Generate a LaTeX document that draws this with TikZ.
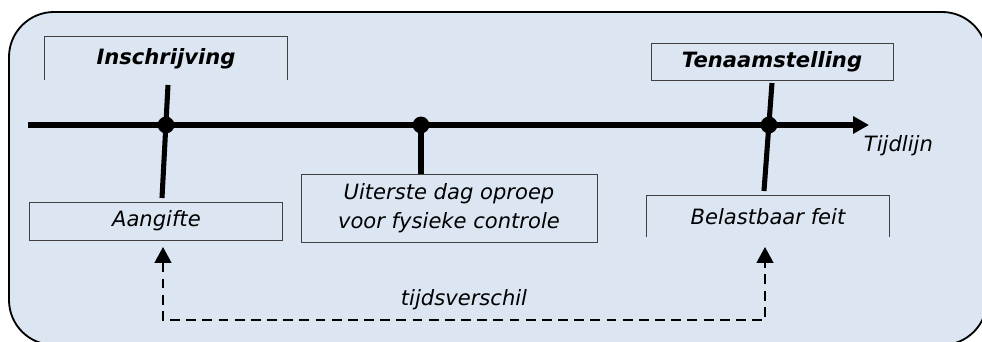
\documentclass[tikz,border=0pt]{standalone}
\usepackage{fontspec}
\setsansfont{DejaVu Sans}
\usetikzlibrary{positioning}
\usetikzlibrary{arrows.meta}
\usetikzlibrary{calc}
\definecolor{panelblue}{HTML}{DCE6F2}
\definecolor{boxline}{HTML}{404040}

\begin{document}
\begin{tikzpicture}[>={Triangle[length=0.4cm,width=0.42cm]},font=\sffamily\fontsize{15}{21}\selectfont\itshape]
    \tikzset{
        labelbox/.style={draw=boxline,line width=0.7pt,align=center,inner sep=0pt},
        openbox/.style={inner sep=0pt},
        eventdot/.style={circle,fill=black,inner sep=0pt,minimum size=0.42cm},
        timeline/.style={line width=3.6pt},
        tick/.style={line width=3.6pt},
        gaparrow/.style={line width=1.5pt,dash pattern=on 7pt off 4.5pt}
    }
    \useasboundingbox (0,0) rectangle (24.55,8.55);
    \clip (0,0) rectangle (24.55,8.55);
    \draw [fill=panelblue,line width=1.3pt,rounded corners=1.125cm] (0.225,-0.075) rectangle (24.675,8.25);

    % boxes
    \node (ins) [openbox,minimum width=6.05cm,minimum height=1.075cm] at (4.15,7.09) {\bfseries Inschrijving};
    \draw [draw=boxline,line width=0.7pt] (ins.south west) -- (ins.north west) -- (ins.north east) -- (ins.south east);
    \node (ten) [labelbox,minimum width=6.05cm,minimum height=0.925cm] at (19.3,7.01) {\bfseries Tenaamstelling};
    \node (aan) [labelbox,minimum width=6.325cm,minimum height=0.95cm] at (3.91,3.025) {Aangifte};
    \node (uit) [labelbox,minimum width=7.4cm,minimum height=1.7cm] at (11.225,3.35) {Uiterste dag oproep\\voor fysieke controle};
    \node (bel) [openbox,minimum width=6.05cm,minimum height=1.025cm] at (19.2,3.14) {Belastbaar feit};
    \draw [draw=boxline,line width=0.7pt] (bel.south west) -- (bel.north west) -- (bel.north east) -- (bel.south east);

    % timeline
    \coordinate (tl0) at (0.7,5.425);
    \coordinate (tl1) at (21.725,5.425);
    \draw [timeline,->] (tl0) -- (tl1);
    \node (tijd) [below right=0.15cm and -0.25cm of tl1] {Tijdlijn};
    \node (d1) [eventdot] at (4.15,5.425) {};
    \node (d2) [eventdot] at (10.525,5.425) {};
    \node (d3) [eventdot] at (19.225,5.425) {};

    % ticks
    \coordinate (k1a) at (4.2,6.425);
    \coordinate (k1b) at (4.05,3.6);
    \coordinate (k3a) at (19.3,6.475);
    \coordinate (k3b) at (19.1,3.775);
    \draw [tick] (k1a) -- (k1b);
    \draw [tick] (d2.center) -- (d2 |- uit.north);
    \draw [tick] (k3a) -- (k3b);

    % time difference
    \coordinate (g1) at (4.075,2.375);
    \coordinate (g2) at (19.125,2.375);
    \draw [gaparrow,<->] (g1) -- ++(0,-1.825) coordinate (gb) -- (gb -| g2) node [midway,above=0.1cm] {tijdsverschil} -- (g2);
\end{tikzpicture}
\end{document}
